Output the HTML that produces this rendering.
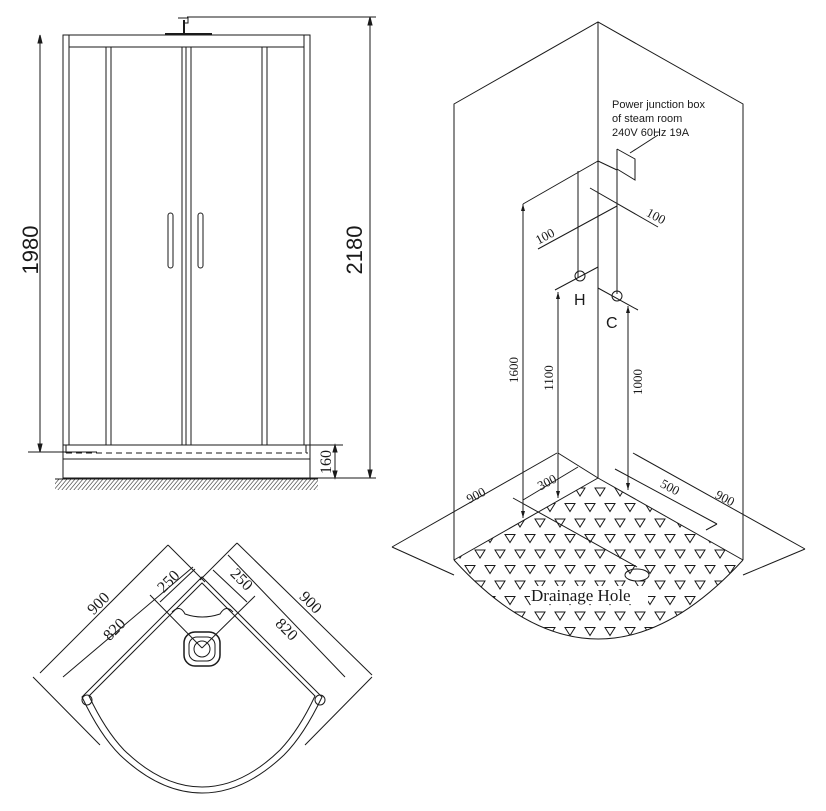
<!DOCTYPE html>
<html><head><meta charset="utf-8"><style>
html,body{margin:0;padding:0;background:#fff}
svg{display:block}
.s{fill:none;stroke:#1a1a1a;stroke-width:1}
.t{font-family:"Liberation Sans",sans-serif;fill:#1a1a1a}
.r{font-family:"Liberation Serif",serif;fill:#1a1a1a}
</style></head><body>
<svg id="d" width="826" height="811" viewBox="0 0 826 811" xmlns="http://www.w3.org/2000/svg">
<defs>
<pattern id="h" width="4" height="10" patternUnits="userSpaceOnUse" patternTransform="skewX(-40)"><line x1="1" y1="0" x2="1" y2="10" stroke="#333" stroke-width="0.8"/></pattern>
<clipPath id="fl"><path d="M598,478 L454,560 Q598,718 743,560 Z"/></clipPath>
</defs>
<g class="s">
<rect x="63" y="35" width="247" height="443"/>
<line x1="69" y1="35" x2="69" y2="445"/><line x1="304" y1="35" x2="304" y2="445"/>
<line x1="69" y1="47" x2="304" y2="47"/>
<line x1="106" y1="47" x2="106" y2="445"/><line x1="111" y1="47" x2="111" y2="445"/>
<line x1="182" y1="47" x2="182" y2="445"/><line x1="186" y1="47" x2="186" y2="445"/><line x1="191" y1="47" x2="191" y2="445"/>
<line x1="262" y1="47" x2="262" y2="445"/><line x1="267" y1="47" x2="267" y2="445"/>
<rect x="168" y="213" width="5" height="55" rx="2.5"/><rect x="198" y="213" width="5" height="55" rx="2.5"/>
<line x1="63" y1="445" x2="310" y2="445"/>
<line x1="66" y1="453" x2="308" y2="453" stroke-dasharray="6,4"/>
<line x1="63" y1="459" x2="310" y2="459"/>
<line x1="66" y1="445" x2="66" y2="453"/><line x1="306" y1="445" x2="306" y2="453"/>
<line x1="165" y1="34" x2="212" y2="34" stroke-width="2"/>
<line x1="184" y1="20" x2="184" y2="34" stroke-width="2"/>
<path d="M178,18 h10 v5 h-4"/>
<line x1="40" y1="35" x2="40" y2="452"/><line x1="28" y1="452" x2="97" y2="452"/>
<path d="M40,35 l-2,8 h4z M40,452 l-2,-8 h4z" fill="#1a1a1a"/>
<line x1="187" y1="17" x2="376" y2="17"/><line x1="370" y1="17" x2="370" y2="478"/><line x1="310" y1="478" x2="376" y2="478"/>
<path d="M370,17 l-2,8 h4z M370,478 l-2,-8 h4z" fill="#1a1a1a"/>
<line x1="310" y1="445" x2="343" y2="445"/><line x1="335" y1="445" x2="335" y2="478"/>
<path d="M335,445 l-2,7 h4z M335,478 l-2,-7 h4z" fill="#1a1a1a"/>
</g>
<rect x="55" y="479" width="263" height="11" fill="url(#h)"/>
<line x1="55" y1="479" x2="318" y2="479" stroke="#1a1a1a"/>
<text class="t" font-size="22" transform="translate(38,250) rotate(-90)" text-anchor="middle">1980</text>
<text class="t" font-size="22" transform="translate(362,250) rotate(-90)" text-anchor="middle">2180</text>
<text class="r" font-size="16" transform="translate(331,462) rotate(-90)" text-anchor="middle">160</text>

<g class="s">
<path d="M454,560 V104 L598,22 L743,104 V560"/>
<line x1="598" y1="22" x2="598" y2="478"/>
<line x1="598" y1="478" x2="454" y2="560"/><line x1="598" y1="478" x2="743" y2="560"/>
<path d="M454,560 Q598,718 743,560"/>
<line x1="392" y1="547" x2="557" y2="453"/><line x1="392" y1="547" x2="454" y2="575"/>
<line x1="633" y1="453" x2="805" y2="549"/><line x1="805" y1="549" x2="743" y2="575"/>
<line x1="615" y1="469" x2="717" y2="524"/><line x1="717" y1="524" x2="706" y2="530"/>
<line x1="523" y1="500" x2="578" y2="467"/>
<line x1="558" y1="453" x2="598" y2="478"/>
<line x1="513" y1="498" x2="637" y2="567"/>
<line x1="523" y1="204" x2="523" y2="518"/><line x1="523" y1="204" x2="598" y2="161"/>
<line x1="538" y1="249" x2="617" y2="206"/>
<line x1="590" y1="188" x2="658" y2="227"/>
<line x1="598" y1="161" x2="617" y2="170"/>
<line x1="578" y1="171" x2="578" y2="278"/>
<line x1="617" y1="149" x2="617" y2="294"/>
<path d="M617,149 L635,159 V180 L617,169"/>
<line x1="630" y1="153" x2="658" y2="135"/>
<circle cx="580" cy="276" r="5"/><line x1="555" y1="290" x2="598" y2="267"/>
<circle cx="617" cy="296" r="5"/><line x1="598" y1="288" x2="638" y2="310"/>
<line x1="558" y1="292" x2="558" y2="498"/>
<line x1="628" y1="306" x2="628" y2="490"/>
<ellipse cx="637" cy="575" rx="12" ry="6"/>
</g>
<g fill="#1a1a1a">
<path d="M523,204 l-2,7 h4z M523,518 l-2,-7 h4z M558,292 l-2,7 h4z M558,498 l-2,-7 h4z M628,306 l-2,7 h4z M628,490 l-2,-7 h4z"/>
</g>
<g id="tri" clip-path="url(#fl)" class="s"></g>
<rect x="530" y="586" width="118" height="18" fill="#fff"/>
<text class="r" font-size="17" x="531" y="601">Drainage Hole</text>
<text class="t" font-size="11" x="612" y="108">Power junction box</text>
<text class="t" font-size="11" x="612" y="122">of steam room</text>
<text class="t" font-size="11" x="612" y="136">240V 60Hz 19A</text>
<text class="t" font-size="16" x="574" y="305">H</text>
<text class="t" font-size="16" x="606" y="328">C</text>
<g class="r" font-size="13">
<text transform="translate(547,240) rotate(-28)" text-anchor="middle">100</text>
<text transform="translate(654,220) rotate(28)" text-anchor="middle">100</text>
<text transform="translate(518,370) rotate(-90)" text-anchor="middle">1600</text>
<text transform="translate(553,378) rotate(-90)" text-anchor="middle">1100</text>
<text transform="translate(642,382) rotate(-90)" text-anchor="middle">1000</text>
<text transform="translate(549,486) rotate(-28)" text-anchor="middle">300</text>
<text transform="translate(668,491) rotate(28)" text-anchor="middle">500</text>
<text transform="translate(478,499) rotate(-28)" text-anchor="middle">900</text>
<text transform="translate(723,502) rotate(28)" text-anchor="middle">900</text>
</g>

<g class="s">
<path d="M202,577 L82,697 Q100,735 120,755 Q160,793 202,793 Q244,793 284,755 Q304,735 322,697 Z"/>
<path d="M202,583 L89,696 Q105,730 124,750 Q162,787 202,787 Q242,787 280,750 Q299,730 315,696 Z"/>
<circle cx="87" cy="700" r="5"/><circle cx="320" cy="700" r="5"/>
<line x1="33" y1="677" x2="100" y2="745"/><line x1="372" y1="677" x2="305" y2="745"/>
<line x1="40" y1="673" x2="168" y2="545"/><line x1="168" y1="545" x2="205" y2="582"/>
<line x1="63" y1="677" x2="193" y2="567"/>
<line x1="237" y1="543" x2="372" y2="675"/><line x1="237" y1="543" x2="200" y2="580"/>
<line x1="228" y1="555" x2="345" y2="677"/>
<line x1="160" y1="602" x2="195" y2="569"/><line x1="150" y1="595" x2="202" y2="648"/>
<line x1="213" y1="570" x2="247" y2="602"/><line x1="255" y1="596" x2="202" y2="648"/>
<path d="M172,612 Q180,604 185,614 Q202,620 220,614 Q226,604 233,612"/>
<rect x="184" y="632" width="36" height="34" rx="11" stroke-width="1.5"/>
<rect x="189" y="637" width="26" height="24" rx="8"/>
<circle cx="202" cy="649" r="8"/>
</g>
<g class="r" font-size="16">
<text transform="translate(102,607) rotate(-45)" text-anchor="middle">900</text>
<text transform="translate(118,633) rotate(-45)" text-anchor="middle">820</text>
<text transform="translate(172,585) rotate(-45)" text-anchor="middle">250</text>
<text transform="translate(238,583) rotate(45)" text-anchor="middle">250</text>
<text transform="translate(283,633) rotate(45)" text-anchor="middle">820</text>
<text transform="translate(307,606) rotate(45)" text-anchor="middle">900</text>
</g>
</svg>
<script>
var g=document.getElementById('tri'),s='';
for(var r=0;r<11;r++){var y=492+r*15.5,o=(r%2)*10;
for(var x=440+o;x<760;x+=20){s+='<path d="M'+(x-5)+','+(y-4)+' h10 l-5,8z"/>';}}
g.innerHTML=s;
</script>
</body></html>
